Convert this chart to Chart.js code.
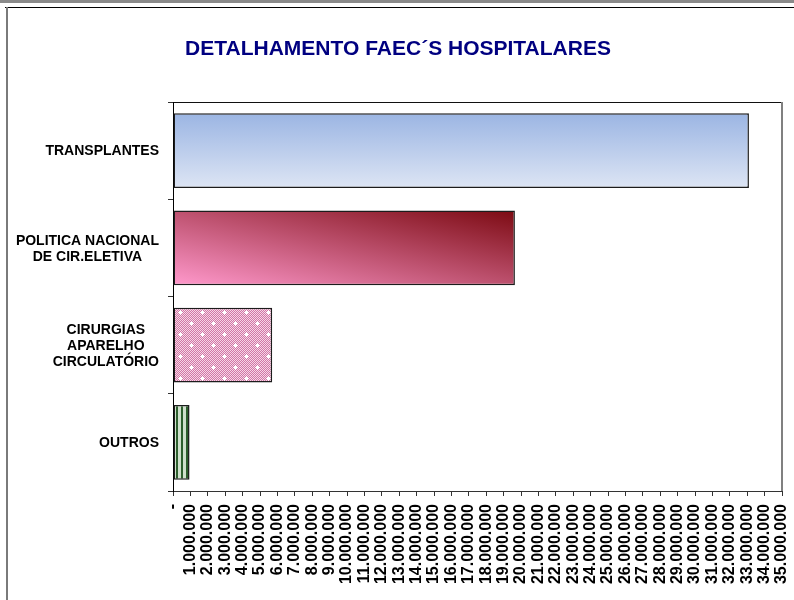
<!DOCTYPE html>
<html>
<head>
<meta charset="utf-8">
<script src="https://cdn.jsdelivr.net/npm/chart.js@4.4.1/dist/chart.umd.min.js"></script>
<style>
  html, body { margin: 0; padding: 0; background: #fff; }
  #wrap { position: relative; width: 794px; height: 600px; }
</style>
</head>
<body>
<div id="wrap"><canvas id="faecChart" width="794" height="600"></canvas></div>
<script>
// ========================================
// Detalhamento FAEC's hospitalares
// ========================================

const chartTitle = 'DETALHAMENTO FAEC´S HOSPITALARES';
const categories = [
  ['TRANSPLANTES'],
  ['POLITICA NACIONAL', 'DE CIR.ELETIVA'],
  ['CIRURGIAS', 'APARELHO', 'CIRCULATÓRIO'],
  ['OUTROS']
];
const values = [33100000, 19650000, 5700000, 950000];
const xMin = 0;
const xMax = 35000000;
const xStep = 1000000;

const FONT = "'Liberation Sans', Arial, sans-serif";

// thousands with dots, zero shown as a dash
function fmt(v) {
  if (v === 0) return '-';
  return String(v).replace(/\B(?=(\d{3})+(?!\d))/g, '.');
}

// small canvas patterns for the two textured bars
function dotPattern() {
  const c = document.createElement('canvas');
  c.width = 22; c.height = 22;
  const g = c.getContext('2d');
  for (let y = 0; y < 22; y++) {
    for (let x = 0; x < 22; x++) {
      g.fillStyle = (x + y) % 2 ? '#d077a5' : '#f7d6e6';
      g.fillRect(x, y, 1, 1);
    }
  }
  g.fillStyle = '#ffffff';
  [[4, 4], [15, 15]].forEach(([cx, cy]) => {
    g.fillRect(cx - 2, cy, 5, 1);
    g.fillRect(cx, cy - 2, 1, 5);
    g.fillRect(cx - 1, cy - 1, 3, 3);
  });
  return g.createPattern(c, 'repeat');
}

function stripePattern() {
  const c = document.createElement('canvas');
  c.width = 5; c.height = 4;
  const g = c.getContext('2d');
  g.fillStyle = '#cfe0cc';
  g.fillRect(0, 0, 5, 4);
  g.fillStyle = '#2d5f2d';
  g.fillRect(1, 0, 2, 4);
  return g.createPattern(c, 'repeat');
}

const ctx = document.getElementById('faecChart');
const patDots = dotPattern();
const patStripes = stripePattern();

function barBox(chart, i) {
  const x = chart.scales.x, y = chart.scales.y;
  const band = Math.abs(y.getPixelForValue(1) - y.getPixelForValue(0));
  const h = band * 0.77;
  const cy = y.getPixelForValue(i);
  return { l: x.getPixelForValue(0), r: x.getPixelForValue(values[i]), t: cy - h / 2, b: cy + h / 2 };
}

function barFill(c) {
  const chart = c.chart;
  const i = c.dataIndex;
  if (!chart.chartArea || !chart.scales.y) return '#a0b8e3';
  const g2 = chart.ctx;
  const bx = barBox(chart, i);
  if (i === 0) {
    const gr = g2.createLinearGradient(0, bx.t, 0, bx.b);
    gr.addColorStop(0, '#9bb5e3');
    gr.addColorStop(1, '#dde5f4');
    return gr;
  }
  if (i === 1) {
    const w = bx.r - bx.l, h = bx.b - bx.t;
    const k = 2 * w * h / (w * w + h * h);
    const gr = g2.createLinearGradient(bx.l, bx.b, bx.l + h * k, bx.b - w * k);
    gr.addColorStop(0, '#ff99cc');
    gr.addColorStop(1, '#7c0a12');
    return gr;
  }
  if (i === 2) return patDots;
  return patStripes;
}

// frame, plot border, title and the centred category labels
const decorPlugin = {
  id: 'decor',
  beforeDraw(chart) {
    const g = chart.ctx;
    const a = chart.chartArea;
    g.save();
    g.fillStyle = '#8a8a8a';
    g.fillRect(0, 0, 794, 3);
    g.fillStyle = '#000';
    g.fillRect(5, 7, 789, 1);
    g.fillStyle = '#7a7a7a';
    g.fillRect(6, 7, 2, 593);
    g.fillStyle = '#111';
    g.fillRect(a.left, a.top, a.right - a.left, 1);
    g.fillStyle = '#808080';
    g.fillRect(a.right - 1, a.top, 2, a.bottom - a.top);
    g.restore();
  },
  afterDraw(chart) {
    const g = chart.ctx;
    const y = chart.scales.y;
    const lh = 16;
    g.save();
    g.fillStyle = '#000080';
    g.font = 'bold 21px ' + FONT;
    g.textAlign = 'center';
    g.textBaseline = 'middle';
    g.fillText(chartTitle, 398, 49);

    g.font = 'bold 14px ' + FONT;
    g.fillStyle = '#000';
    categories.forEach((lines, i) => {
      const cy = y.getPixelForValue(i) + 1;
      const maxW = Math.max(...lines.map(t => g.measureText(t).width));
      const cx = 159 - maxW / 2;
      lines.forEach((t, j) => {
        g.fillText(t, cx, cy + (j - (lines.length - 1) / 2) * lh);
      });
    });
    g.restore();
  }
};

new Chart(ctx, {
  type: 'bar',
  data: {
    labels: categories.map(l => l.join(' ')),
    datasets: [{
      data: values,
      backgroundColor: barFill,
      borderColor: '#1c1c1c',
      borderWidth: 1.5,
      borderSkipped: false,
      barPercentage: 0.77,
      categoryPercentage: 1
    }]
  },
  options: {
    indexAxis: 'y',
    responsive: false,
    animation: false,
    layout: { padding: { left: 0, right: 12, top: 102, bottom: 0 } },
    plugins: {
      legend: { display: false },
      tooltip: { enabled: false },
      title: { display: false }
    },
    scales: {
      x: {
        min: xMin,
        max: xMax,
        afterFit(s) {
          s.height = 109;
          s.paddingLeft = 0;
          s.paddingRight = 0;
        },
        afterBuildTicks(s) {
          const t = [];
          for (let v = xMin; v <= xMax; v += xStep) t.push({ value: v });
          s.ticks = t;
        },
        grid: { drawOnChartArea: false, tickLength: 5, tickColor: '#333', color: '#333' },
        border: { color: '#333', width: 1 },
        ticks: {
          autoSkip: false,
          minRotation: 90,
          maxRotation: 90,
          padding: 8,
          color: '#000',
          font: { family: FONT, size: 16, weight: 'bold' },
          callback: v => fmt(v)
        }
      },
      y: {
        afterFit(s) { s.width = 173; },
        grid: { drawOnChartArea: false, tickLength: 5, tickColor: '#333', color: '#333' },
        border: { color: '#000', width: 1 },
        ticks: { display: false }
      }
    }
  },
  plugins: [decorPlugin]
});
</script>
</body>
</html>
